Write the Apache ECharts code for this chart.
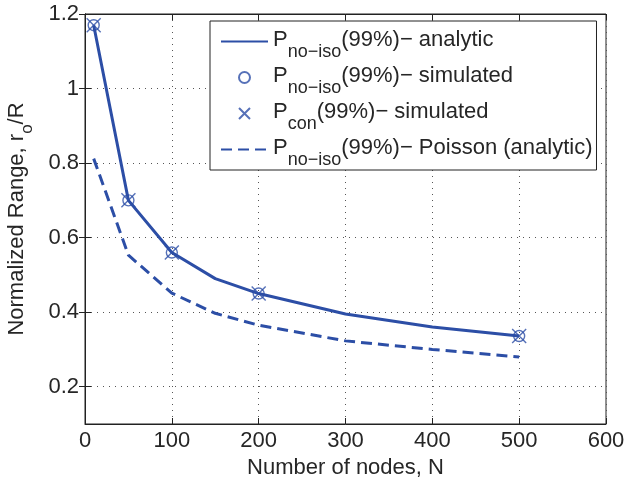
<!DOCTYPE html>
<html>
<head>
<meta charset="utf-8">
<script src="https://cdn.jsdelivr.net/npm/echarts@6/dist/echarts.min.js"></script>
<style>
  html, body { margin: 0; padding: 0; background: #fff; }
  #chart { width: 624px; height: 478px; }
</style>
</head>
<body>
<div id="chart"></div>
<script>
// values
var nodesAnalytic = [10, 50, 100, 150, 200, 300, 400, 500];
var rangeAnalytic = [1.17, 0.70, 0.56, 0.49, 0.45, 0.395, 0.36, 0.336];

var nodesSim = [10, 50, 100, 200, 500];
var rangeNoIsoSim = [1.17, 0.70, 0.56, 0.45, 0.336];
var rangeConSim = [1.17, 0.70, 0.56, 0.45, 0.336];

var nodesPoisson = [10, 50, 100, 150, 200, 300, 400, 500];
var rangePoisson = [0.812, 0.553, 0.451, 0.397, 0.365, 0.323, 0.30, 0.28];

var yTicks = [0.2, 0.4, 0.6, 0.8, 1, 1.2];

var BLUE = '#2c4ea6';
var TEXT = '#262626';

function pairs(xs, ys) {
    return xs.map(function (x, i) { return [x, ys[i]]; });
}

var legendLabels = {
    'analytic': '{p|P}{s|no\u2212iso}{p|(99%)\u2212 analytic}',
    'noiso-sim': '{p|P}{s|no\u2212iso}{p|(99%)\u2212 simulated}',
    'con-sim': '{p|P}{s|con}{p|(99%)\u2212 simulated}',
    'poisson': '{p|P}{s|no\u2212iso}{p|(99%)\u2212 Poisson (analytic)}'
};

var gridLine = { show: true, lineStyle: { color: '#555', type: [1, 5], width: 1 } };
var fontFamily = '"Liberation Sans", Arial, sans-serif';

var chart = echarts.init(document.getElementById('chart'));
chart.setOption({
    animation: false,
    textStyle: { fontFamily: fontFamily },
    grid: {
        left: 85, right: 18, top: 14, bottom: 54,
        outerBoundsMode: 'none', containLabel: false,
        show: true, borderColor: '#222', borderWidth: 1
    },
    legend: {
        orient: 'vertical',
        left: 210,
        top: 21,
        padding: [8, 4, 1, 10],
        itemGap: 4,
        itemWidth: 47,
        itemHeight: 11,
        backgroundColor: '#fff',
        borderColor: '#222',
        borderWidth: 1,
        data: [
            { name: 'analytic', itemStyle: { opacity: 0 } },
            { name: 'noiso-sim' },
            { name: 'con-sim' },
            { name: 'poisson', itemStyle: { opacity: 0 } }
        ],
        formatter: function (name) { return legendLabels[name]; },
        textStyle: {
            color: TEXT,
            rich: {
                p: { fontSize: 22, lineHeight: 25, verticalAlign: 'top', color: TEXT, fontFamily: fontFamily },
                s: { fontSize: 18, lineHeight: 19, padding: [14, 0, 0, 0], verticalAlign: 'top', color: TEXT, fontFamily: fontFamily }
            }
        }
    },
    xAxis: [
        {
            type: 'value', min: 0, max: 600, interval: 100,
            name: 'Number of nodes, N', nameLocation: 'middle', nameGap: 29,
            nameTextStyle: { fontSize: 22, color: TEXT },
            axisLine: { show: true, lineStyle: { color: '#222' } },
            axisTick: { show: true, inside: true, length: 6, lineStyle: { color: '#222' } },
            axisLabel: { fontSize: 22, color: TEXT, margin: 6 },
            splitLine: gridLine
        },
        {
            type: 'value', min: 0, max: 600, interval: 100, position: 'top',
            axisLine: { show: true, lineStyle: { color: '#222' } },
            axisTick: { show: true, inside: true, length: 6, lineStyle: { color: '#222' } },
            axisLabel: { show: false },
            splitLine: { show: false }
        }
    ],
    yAxis: [
        {
            type: 'value', min: 0.1, max: 1.2,
            name: '{n|Normalized Range, r}{s|o}{n|/R}', nameLocation: 'middle', nameGap: 55,
            nameTextStyle: {
                rich: {
                    n: { fontSize: 22, lineHeight: 24, verticalAlign: 'top', color: TEXT, fontFamily: fontFamily },
                    s: { fontSize: 17, lineHeight: 17, padding: [13, 0, 0, 0], verticalAlign: 'top', color: TEXT, fontFamily: fontFamily }
                }
            },
            axisLine: { show: true, lineStyle: { color: '#222' } },
            axisTick: { show: true, inside: true, length: 6, customValues: yTicks, lineStyle: { color: '#222' } },
            axisLabel: { fontSize: 22, color: TEXT, margin: 6, customValues: yTicks },
            splitLine: gridLine
        },
        {
            type: 'value', min: 0.1, max: 1.2, position: 'right',
            axisLine: { show: true, lineStyle: { color: '#222' } },
            axisTick: { show: true, inside: true, length: 6, customValues: yTicks, lineStyle: { color: '#222' } },
            axisLabel: { show: false },
            splitLine: { show: false }
        }
    ],
    series: [
        {
            name: 'analytic', type: 'line',
            data: pairs(nodesAnalytic, rangeAnalytic),
            symbol: 'none', color: BLUE,
            lineStyle: { width: 3, color: BLUE }
        },
        {
            name: 'noiso-sim', type: 'scatter',
            data: pairs(nodesSim, rangeNoIsoSim),
            symbol: 'circle', symbolSize: 11,
            itemStyle: { color: 'rgba(0,0,0,0)', borderColor: BLUE, borderWidth: 1.4 }
        },
        {
            name: 'con-sim', type: 'scatter',
            data: pairs(nodesSim, rangeConSim),
            symbol: 'path://M0,0L10,10M0,10L10,0', symbolSize: 14,
            itemStyle: { color: 'rgba(0,0,0,0)', borderColor: BLUE, borderWidth: 1.4 }
        },
        {
            name: 'poisson', type: 'line',
            data: pairs(nodesPoisson, rangePoisson),
            symbol: 'none', color: BLUE,
            lineStyle: { width: 3, color: BLUE, type: [11, 6] }
        }
    ]
});
</script>
</body>
</html>
